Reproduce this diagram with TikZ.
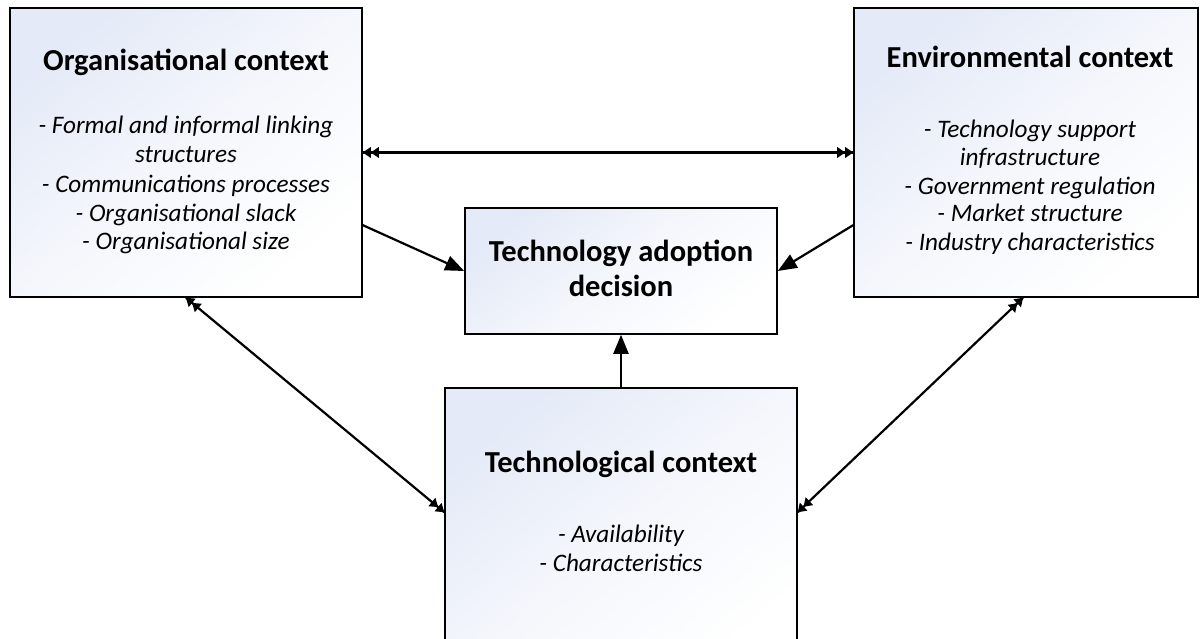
\documentclass[tikz,border=0pt]{standalone}
\usepackage{fontspec}
\setmainfont{Carlito}
\usetikzlibrary{arrows.meta,calc}
\definecolor{tint}{RGB}{228,234,247}
\tikzset{
  ctxbox/.style={draw=black, line width=1.6pt, rectangle, inner sep=0pt,
    top color=tint, bottom color=white, middle color=white!60!tint, shading angle=40},
  ttl/.style={anchor=base, font=\fontsize{30.5}{36}\selectfont\bfseries, inner sep=0pt},
  itm/.style={anchor=base, font=\fontsize{25.2}{30}\selectfont\itshape, inner sep=0pt},
  wire/.style={draw=black, line width=2.2pt},
  dblhead/.style={fill=black, draw=none},
  one/.style={draw=black, line width=2.2pt, -{Triangle[length=19pt,width=15pt]}}
}
% small double arrowhead drawn at #1 pointing away from #2
\newcommand\twinhead[2]{%
  \path let \p1=($(#1)-(#2)$), \n1={atan2(\y1,\x1)} in
    [shift={(#1)}, rotate=\n1]
    [dblhead] (0,0) -- (-8,-5.5) -- (-8,5.5) -- cycle
    [dblhead] (-8,0) -- (-16,-5.5) -- (-16,5.5) -- cycle;}
\begin{document}
\begin{tikzpicture}[x=1pt,y=1pt]
\useasboundingbox (0,0) rectangle (1201,639);
\clip (0,0) rectangle (1201,639);
% context boxes (y measured upward from the lower edge)
\node[ctxbox, minimum width=352pt, minimum height=289pt] (org) at (186,486.5) {};
\node[ctxbox, minimum width=344pt, minimum height=289pt] (env) at (1026,486.5) {};
\node[ctxbox, minimum width=312pt, minimum height=126pt] (dec) at (621,368) {};
\node[ctxbox, minimum width=352pt, minimum height=290pt] (tec) at (621,106) {};
% organisational context
\node[ttl] (orgT) at (186,568) {Organisational context};
\node[itm] (org1) at (186,505) {- Formal and informal linking};
\node[itm] (org2) at (186,476) {structures};
\node[itm] (org3) at (186,446) {- Communications processes};
\node[itm] (org4) at (186,417) {- Organisational slack};
\node[itm] (org5) at (186,389) {- Organisational size};
% environmental context
\node[ttl] (envT) at (1030,571) {Environmental context};
\node[itm] (env1) at (1030,501) {- Technology support};
\node[itm] (env2) at (1030,473) {infrastructure};
\node[itm] (env3) at (1030,444) {- Government regulation};
\node[itm] (env4) at (1030,417) {- Market structure};
\node[itm] (env5) at (1030,388) {- Industry characteristics};
% decision
\node[ttl] (decT1) at (621,377) {Technology adoption};
\node[ttl] (decT2) at (621,342) {decision};
% technological context
\node[ttl] (tecT) at (621,166) {Technological context};
\node[itm] (tec1) at (621,96) {- Availability};
\node[itm] (tec2) at (621,67) {- Characteristics};
% connector end points
\coordinate (oe) at (org.east);
\coordinate (ew) at (env.west);
\coordinate (os) at (org.south);
\coordinate (es) at ($(env.south)+(-3,0)$);
\coordinate (tw) at ($(tec.north west)+(0,-125)$);
\coordinate (te) at ($(tec.north east)+(0,-125)$);
% two-way links
\draw[wire] (oe) -- (ew);
\draw[wire] (os) -- (tw);
\draw[wire] (es) -- (te);
\twinhead{oe}{ew}
\twinhead{ew}{oe}
\twinhead{os}{tw}
\twinhead{tw}{os}
\twinhead{es}{te}
\twinhead{te}{es}
% influences on the adoption decision
\draw[one] ($(org.north east)!0.75!(org.south east)$) -- (dec.west);
\draw[one] ($(env.north west)!0.75!(env.south west)$) -- (dec.east);
\draw[one] (tec.north) -- (dec.south);
\end{tikzpicture}
\end{document}
